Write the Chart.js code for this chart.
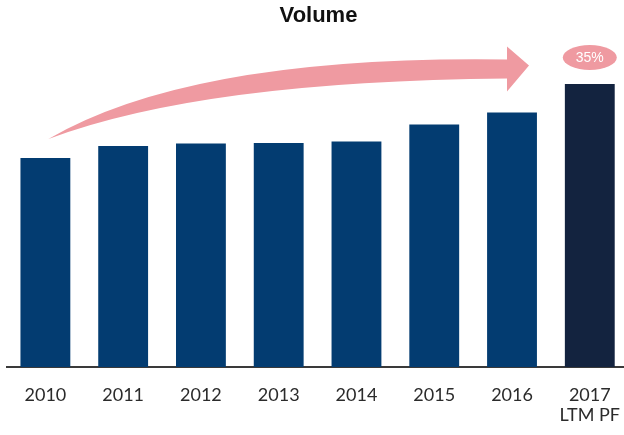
<!DOCTYPE html>
<html>
<head>
<meta charset="utf-8">
<script src="https://cdn.jsdelivr.net/npm/chart.js@4.4.1/dist/chart.umd.min.js"></script>
<style>
  html, body { margin: 0; padding: 0; background: #fff; overflow: hidden; }
  #wrap { width: 638px; height: 435px; }
</style>
</head>
<body>
<div id="wrap"><canvas id="volume" width="638" height="435"></canvas></div>
<script>
// Volume index, 2010 = 100
const years = [['2010'], ['2011'], ['2012'], ['2013'], ['2014'], ['2015'], ['2016'], ['2017', 'LTM PF']];
const volume = [100, 105.7, 106.9, 107.2, 107.9, 116.0, 121.8, 135.4];
const barColors = ['#033c71', '#033c71', '#033c71', '#033c71', '#033c71', '#033c71', '#033c71', '#13233f'];

const pink = '#ef9aa1';

// growth from first to last year, shown in the bubble over the last bar
const growthPct = Math.round((volume[volume.length - 1] / volume[0] - 1) * 100);

const growthArrow = {
    id: 'growthArrow',
    afterDatasetsDraw(chart) {
        const ctx = chart.ctx;
        const x = chart.scales.x;
        const y = chart.scales.y;
        const last = volume.length - 1;

        // curved band from the first bar up towards the last one
        const sx = x.getPixelForValue(0) + 3;
        const sy = y.getPixelForValue(volume[0]) - 19;
        const hx = x.getPixelForValue(last - 1) - 5;
        const hy = y.getPixelForValue(volume[last]) - 15;
        const cx = (sx + hx) / 2 - 85;

        ctx.save();
        ctx.fillStyle = pink;
        ctx.beginPath();
        ctx.moveTo(sx, sy);
        ctx.quadraticCurveTo(cx, hy - 14, hx, hy - 9.5);
        ctx.lineTo(hx, hy - 22.5);
        ctx.lineTo(hx + 22, hy - 3.5);
        ctx.lineTo(hx, hy + 22.5);
        ctx.lineTo(hx, hy + 9.5);
        ctx.quadraticCurveTo(cx + 10, hy + 12, sx, sy);
        ctx.closePath();
        ctx.fill();

        // growth bubble
        const bx = x.getPixelForValue(last);
        const by = y.getPixelForValue(volume[last]) - 26.5;
        ctx.beginPath();
        ctx.ellipse(bx, by, 27, 12.5, 0, 0, Math.PI * 2);
        ctx.fill();
        ctx.fillStyle = '#ffffff';
        ctx.font = '14px "Liberation Sans", Arial, sans-serif';
        ctx.textAlign = 'center';
        ctx.textBaseline = 'middle';
        ctx.fillText(growthPct + '%', bx, by + 0.5);
        ctx.restore();
    }
};

new Chart(document.getElementById('volume'), {
    type: 'bar',
    data: {
        labels: years,
        datasets: [{
            label: 'Volume',
            data: volume,
            backgroundColor: barColors,
            borderWidth: 0,
            barPercentage: 0.641,
            categoryPercentage: 1
        }]
    },
    options: {
        responsive: false,
        animation: false,
        layout: { padding: { left: 6.5, right: 7.5, top: 0, bottom: 0 } },
        scales: {
            x: {
                grid: { display: false, drawTicks: false },
                border: { display: true, color: '#3a3a3a', width: 2 },
                ticks: {
                    color: '#2b2b2b',
                    padding: 17.5,
                    font: { family: 'Lato, "Open Sans", sans-serif', size: 18, lineHeight: 1.15 }
                },
                afterFit(scale) { scale.height = 68; }
            },
            y: {
                display: false,
                min: 0,
                max: 160
            }
        },
        plugins: {
            legend: { display: false },
            tooltip: { enabled: false },
            title: {
                display: true,
                text: 'Volume',
                color: '#111111',
                font: { family: '"Liberation Sans", Arial, sans-serif', size: 22, weight: 'bold', lineHeight: 1.2 },
                padding: { top: 3, bottom: 3.2 }
            }
        }
    },
    plugins: [growthArrow]
});
</script>
</body>
</html>
